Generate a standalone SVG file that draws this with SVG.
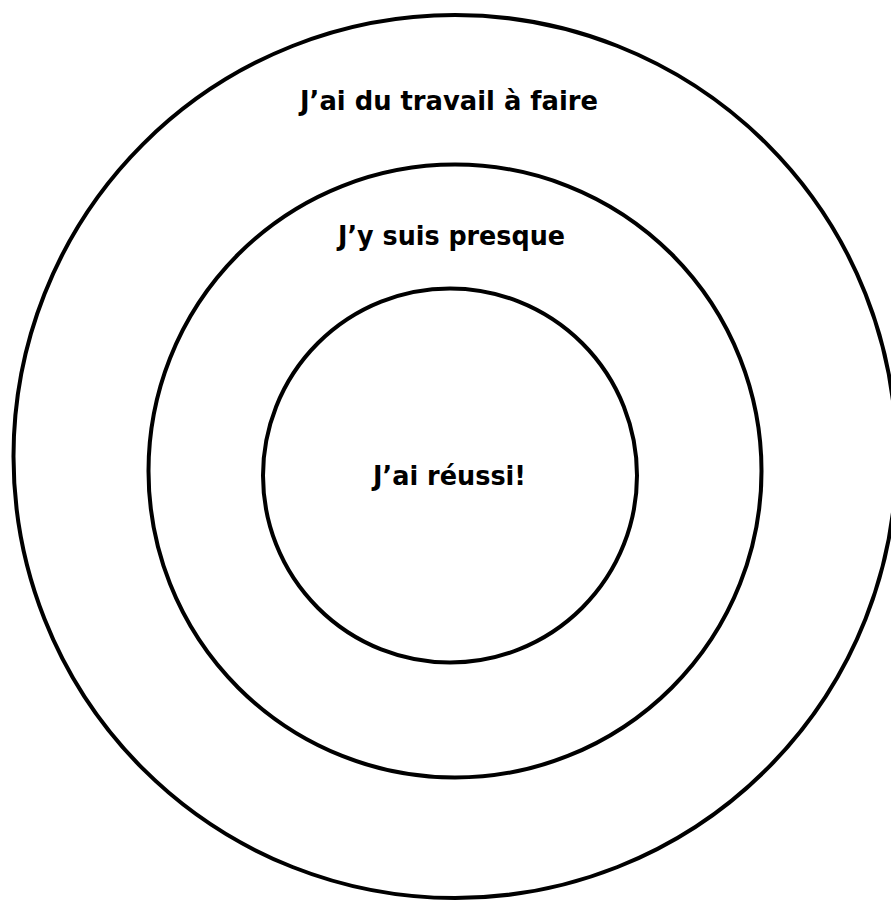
<svg xmlns="http://www.w3.org/2000/svg" width="891" height="901" viewBox="0 0 891 901">
<style>
.ring{fill:none;stroke:#000;stroke-width:4}
.lbl{font-family:"Comic Sans MS","DejaVu Sans",sans-serif;font-weight:bold;font-size:27px;fill:#000}
</style>
<rect width="891" height="901" fill="#fff"/>
<g id="outer">
<circle class="ring" cx="455" cy="456.5" r="441.5"/>
<text class="lbl" x="300" y="110" textLength="298" lengthAdjust="spacingAndGlyphs">J’ai du travail à faire</text>
</g>
<g id="middle">
<circle class="ring" cx="455" cy="471" r="306.5"/>
<text class="lbl" x="338" y="245" textLength="227" lengthAdjust="spacingAndGlyphs">J’y suis presque</text>
</g>
<g id="inner">
<circle class="ring" cx="450" cy="475.5" r="187"/>
<text class="lbl" x="373" y="485" textLength="153" lengthAdjust="spacingAndGlyphs">J’ai réussi!</text>
</g>
<g id="connectors"/>
</svg>
